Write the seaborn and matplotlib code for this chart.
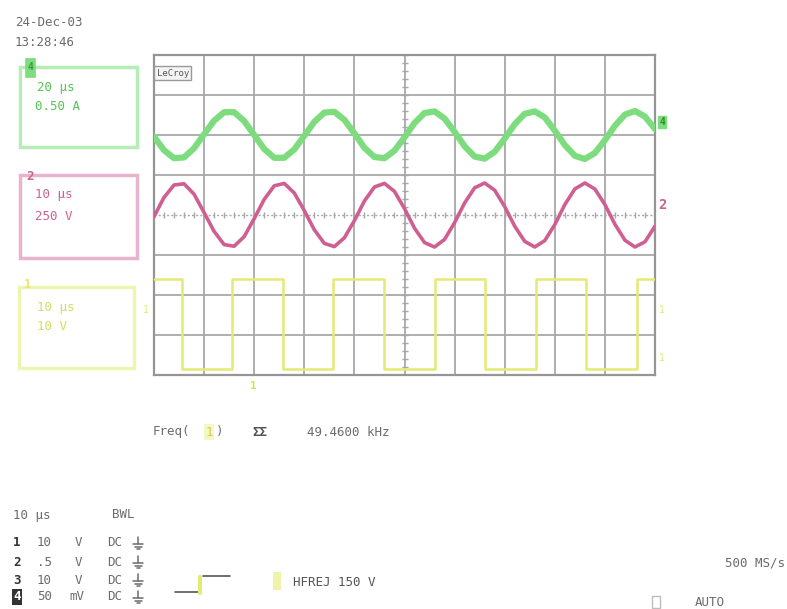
import numpy as np
import pandas as pd
import matplotlib
matplotlib.use("Agg")
import matplotlib.pyplot as plt
import seaborn as sns
from matplotlib.patches import Rectangle

sns.set_theme(style="white")
plt.rcParams["font.family"] = ["DejaVu Sans Mono", "DejaVu Sans"]

W, H = 787, 609

# ---- screen data: timebase 10 us/div, vertical position in divisions ----
sample_us = np.arange(0, 101, 2)

# channel 4 (current probe), trace centred two divisions above screen centre
ch4_div = [1.96, 1.62, 1.42, 1.44, 1.67, 2.02, 2.36, 2.57, 2.57, 2.35,
           2.00, 1.65, 1.43, 1.43, 1.64, 1.98, 2.33, 2.56, 2.58, 2.38,
           2.04, 1.68, 1.45, 1.42, 1.61, 1.94, 2.30, 2.55, 2.59, 2.41,
           2.08, 1.72, 1.46, 1.41, 1.58, 1.91, 2.27, 2.53, 2.59, 2.44,
           2.11, 1.75, 1.48, 1.40, 1.55, 1.87, 2.23, 2.51, 2.60, 2.46,
           2.15]

# channel 2 (line voltage), centred on screen
ch2_div = [-0.04, 0.44, 0.75, 0.78, 0.52, 0.06, -0.41, -0.74, -0.78, -0.54,
           -0.09, 0.39, 0.73, 0.79, 0.55, 0.11, -0.37, -0.71, -0.79, -0.57,
           -0.14, 0.35, 0.70, 0.79, 0.59, 0.16, -0.33, -0.69, -0.80, -0.61,
           -0.19, 0.30, 0.68, 0.80, 0.62, 0.21, -0.28, -0.66, -0.80, -0.64,
           -0.24, 0.26, 0.65, 0.80, 0.65, 0.26, -0.23, -0.63, -0.80, -0.67,
           -0.28]

# channel 1 (gate drive): edge times and levels
ch1_edges_us = [0, 5.5, 15.6, 25.7, 35.8, 45.9, 56.0, 66.1, 76.2, 86.3, 96.4, 100]
ch1_div = [-1.6, -3.85, -1.6, -3.85, -1.6, -3.85, -1.6, -3.85, -1.6, -3.85, -1.6, -1.6]

channel_ids = ["1", "2", "3", "4"]
channel_scales = ["10", ".5", "10", "50"]
channel_units = ["V", "V", "V", "mV"]

freq_reading = "49.4600 kHz"
date_stamp = "24-Dec-03"
time_stamp = "13:28:46"

GREEN = "#7ddc7d"
GREEN_D = "#55c455"
PINK = "#cf5f91"
YELLOW = "#e4ea74"
YELLOW_L = "#eef3a8"
GRID = "#a8a8a8"
TXT = "#6b6b6b"

ch4 = pd.DataFrame({"t": sample_us, "v": ch4_div})
ch2 = pd.DataFrame({"t": sample_us, "v": ch2_div})
ch1 = pd.DataFrame({"t": ch1_edges_us, "v": ch1_div})

fig = plt.figure(figsize=(W / 100, H / 100), dpi=100)
fig.patch.set_facecolor("white")


def fx(x):
    return x / W


def fy(y):
    return 1 - y / H


def ftext(x, y, s, **kw):
    kw.setdefault("color", TXT)
    kw.setdefault("fontsize", 9)
    kw.setdefault("va", "center")
    kw.setdefault("ha", "left")
    fig.text(fx(x), fy(y), s, **kw)


def fbox(x0, y0, x1, y1, **kw):
    fig.patches.append(Rectangle((fx(x0), fy(y1)), fx(x1) - fx(x0), fy(y0) - fy(y1),
                                 transform=fig.transFigure, figure=fig, **kw))


def fline(xs, ys, **kw):
    fig.lines.append(plt.Line2D([fx(v) for v in xs], [fy(v) for v in ys],
                                transform=fig.transFigure, **kw))


def ground_symbol(x, y, color=TXT):
    # earth sign: short stem over three shrinking bars
    fline([x, x], [y - 6, y + 1], color=color, lw=1.1)
    fline([x - 5, x + 5], [y + 1, y + 1], color=color, lw=1.1)
    fline([x - 3.5, x + 3.5], [y + 3.5, y + 3.5], color=color, lw=1.1)
    fline([x - 1.5, x + 1.5], [y + 6, y + 6], color=color, lw=1.1)


# ---- graticule ----
ax = fig.add_axes([fx(154), fy(375), fx(655) - fx(154), fy(55) - fy(375)])
ax.set_xlim(0, 100)
ax.set_ylim(-4, 4)
ax.set_xticks(np.arange(0, 101, 10))
ax.set_yticks([-4, -3, -2, -1, 1, 2, 3, 4])
ax.grid(True, color=GRID, lw=1.3)
ax.tick_params(length=0, labelbottom=False, labelleft=False)
for sp in ax.spines.values():
    sp.set_color("#959595")
    sp.set_linewidth(1.6)
ax.axhline(0, color=GRID, lw=1.0, ls=(0, (1.5, 1.5)), zorder=1)
ax.scatter(np.arange(0, 100.1, 2), np.zeros(51), marker="|", s=22, color=GRID, lw=1.0, zorder=1)
ax.scatter(np.full(41, 50.0), np.arange(-4, 4.01, 0.2), marker="_", s=22, color=GRID, lw=1.0, zorder=1)

# ---- traces ----
sns.lineplot(data=ch1, x="t", y="v", ax=ax, color=YELLOW, lw=1.8, drawstyle="steps-post", zorder=3)
sns.lineplot(data=ch2, x="t", y="v", ax=ax, color=PINK, lw=2.6, zorder=4)
sns.lineplot(data=ch4, x="t", y="v", ax=ax, color=GREEN, lw=4.5, zorder=5)
ax.set_xlabel("")
ax.set_ylabel("")

# LeCroy badge
ax.text(0.5, 3.55, "LeCroy", fontsize=6.5, color="#555555", va="center", ha="left",
        bbox=dict(boxstyle="square,pad=0.25", fc="#f4f4f4", ec="#9a9a9a", lw=1.0), zorder=6)

# ---- date / time ----
ftext(15, 23, date_stamp)
ftext(15, 42, time_stamp)

# ---- channel boxes ----
fbox(20, 67, 137, 147, fill=False, ec="#b6ecb6", lw=2.5)
fbox(25, 58, 35, 77, fc=GREEN, ec=GREEN, lw=0.5)
ftext(30, 67, "4", color="#3a9a3a", fontsize=7, ha="center", weight="bold")
ftext(37, 87, "20 \u00b5s", color=GREEN_D)
ftext(35, 106, "0.50 A", color=GREEN_D)

fbox(20, 175, 137, 258, fill=False, ec="#e8b3cc", lw=2.5)
ftext(30, 177, "2", color=PINK, fontsize=9, ha="center", weight="bold")
ftext(35, 195, "10 \u00b5s", color=PINK)
ftext(35, 216, "250 V", color=PINK)

fbox(19, 287, 134, 368, fill=False, ec="#eef5b0", lw=2.5)
ftext(28, 285, "1", color=YELLOW, fontsize=9, ha="center", weight="bold")
ftext(37, 307, "10 \u00b5s", color="#d5dc66")
ftext(37, 326, "10 V", color="#d5dc66")

# ---- trace markers at screen edges ----
ftext(662, 122, "4", color="#2f8f2f", fontsize=7, ha="center", weight="bold",
      bbox=dict(boxstyle="square,pad=0.1", fc=GREEN, ec=GREEN))
ftext(662, 205, "2", color=PINK, fontsize=10, ha="center", weight="bold")
ftext(146, 310, "1", color=YELLOW, fontsize=7, ha="center")
ftext(662, 310, "1", color=YELLOW, fontsize=7, ha="center")
ftext(662, 358, "1", color=YELLOW, fontsize=7, ha="center")
ftext(253, 386, "1", color="#d8de5a", fontsize=8, ha="center", weight="bold")

# ---- measurement ----
ftext(153, 432, "Freq(")
ftext(209, 432, channel_ids[0], ha="center", color="#c9cf55",
      bbox=dict(boxstyle="square,pad=0.1", fc="#f3f7c4", ec="none"))
ftext(216, 432, ")")
ftext(252, 432, "\u03a3\u03a3", color="#555555", weight="bold")
ftext(307, 432, freq_reading)

# ---- channel setup table ----
ftext(13, 515, "10 \u00b5s")
ftext(112, 515, "BWL")
rows_y = [543, 562, 580, 597]
for cid, sc, un, yy in zip(channel_ids, channel_scales, channel_units, rows_y):
    if cid == "4":
        ftext(13, yy, cid, color="white", weight="bold",
              bbox=dict(boxstyle="square,pad=0.1", fc="#333333", ec="none"))
    else:
        ftext(13, yy, cid, color="#333333", weight="bold")
    ftext(37, yy, sc)
    ftext(82 if un == "V" else 84, yy, un, ha="right")
    ftext(107, yy, "DC")
    ground_symbol(138, yy)

# ---- trigger setup ----
fline([175, 199], [592, 592], color="#555555", lw=1.2)
fline([200, 200], [593, 577], color=YELLOW, lw=3)
fline([203, 230], [576, 576], color="#555555", lw=1.2)
fbox(273, 572, 281, 590, fc=YELLOW_L, ec="none")
ftext(293, 582, "HFREJ 150 V", color="#555555")

ftext(785, 563, "500 MS/s", ha="right")
fbox(652, 596, 660, 608, fill=False, ec="#bdbdbd", lw=1)
ftext(695, 602, "AUTO")

fig.savefig("out.png", dpi=100, facecolor="white")
